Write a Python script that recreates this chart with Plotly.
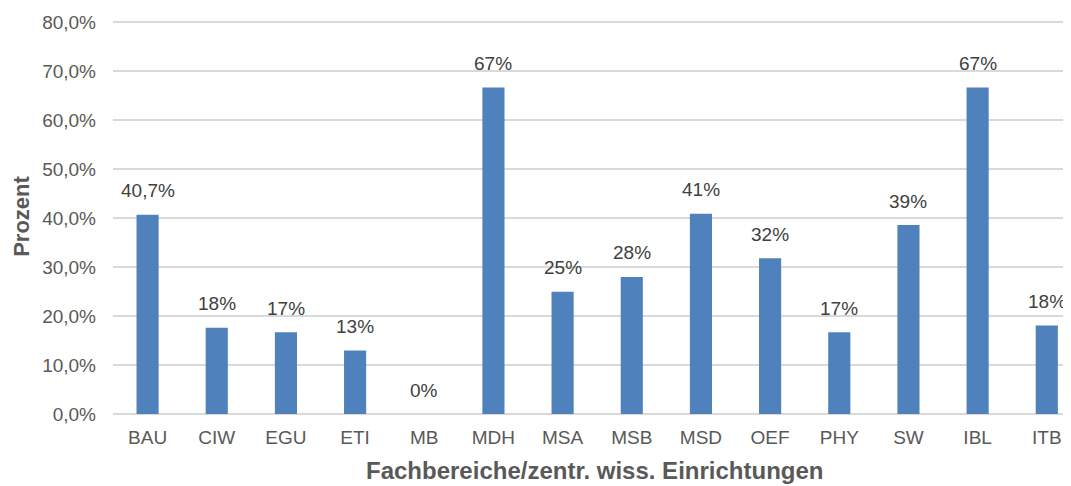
import plotly.graph_objects as go

categories = ["BAU", "CIW", "EGU", "ETI", "MB", "MDH", "MSA", "MSB", "MSD", "OEF", "PHY", "SW", "IBL", "ITB"]
values = [40.7, 17.6, 16.7, 13.0, 0.0, 66.7, 25.0, 28.0, 40.9, 31.8, 16.7, 38.6, 66.7, 18.1]
labels = ["40,7%", "18%", "17%", "13%", "0%", "67%", "25%", "28%", "41%", "32%", "17%", "39%", "67%", "18%"]
y_ticks = [0, 10, 20, 30, 40, 50, 60, 70, 80]
y_tick_text = ["0,0%", "10,0%", "20,0%", "30,0%", "40,0%", "50,0%", "60,0%", "70,0%", "80,0%"]

FONT = "Arial, Liberation Sans, sans-serif"
GRAY = "#595959"

fig = go.Figure()
fig.add_trace(go.Bar(
    x=categories, y=values,
    marker=dict(color="#4F81BD", line=dict(width=0)),
    hoverinfo="skip",
))

for c, v, t in zip(categories, values, labels):
    fig.add_annotation(x=c, y=v, text=t, showarrow=False, yanchor="middle",
                       yshift=24, font=dict(family=FONT, size=19, color="#404040"))

fig.add_annotation(xref="paper", yref="paper", x=0.503, y=-0.143, yanchor="middle",
                   text="<b>Fachbereiche/zentr. wiss. Einrichtungen</b>", showarrow=False,
                   font=dict(family=FONT, size=24, color=GRAY))
fig.add_annotation(xref="paper", yref="paper", x=-0.0955, y=0.503, xanchor="center",
                   text="<b>Prozent</b>", textangle=-90, showarrow=False, borderpad=0,
                   font=dict(family=FONT, size=22, color=GRAY))

# page body has an 8px margin; figure offset accordingly
fig.update_layout(
    width=1063, height=478,
    margin=dict(l=105, r=0, t=12.5, b=71.5),
    plot_bgcolor="white", paper_bgcolor="white",
    bargap=0.68, showlegend=False,
    font=dict(family=FONT, size=19, color=GRAY),
)
fig.update_xaxes(range=[-0.5, 13.35], showgrid=False, showline=False, ticks="",
                 tickfont=dict(family=FONT, size=19, color=GRAY), ticklabelstandoff=10)
fig.update_yaxes(range=[0, 80.3], tickvals=y_ticks, ticktext=y_tick_text,
                 showgrid=True, gridcolor="#D9D9D9", gridwidth=1.5,
                 zeroline=True, zerolinecolor="#D9D9D9", zerolinewidth=1.5,
                 showline=False, ticks="", ticklabelstandoff=16,
                 tickfont=dict(family=FONT, size=19, color=GRAY))

fig.write_html("out.html")
